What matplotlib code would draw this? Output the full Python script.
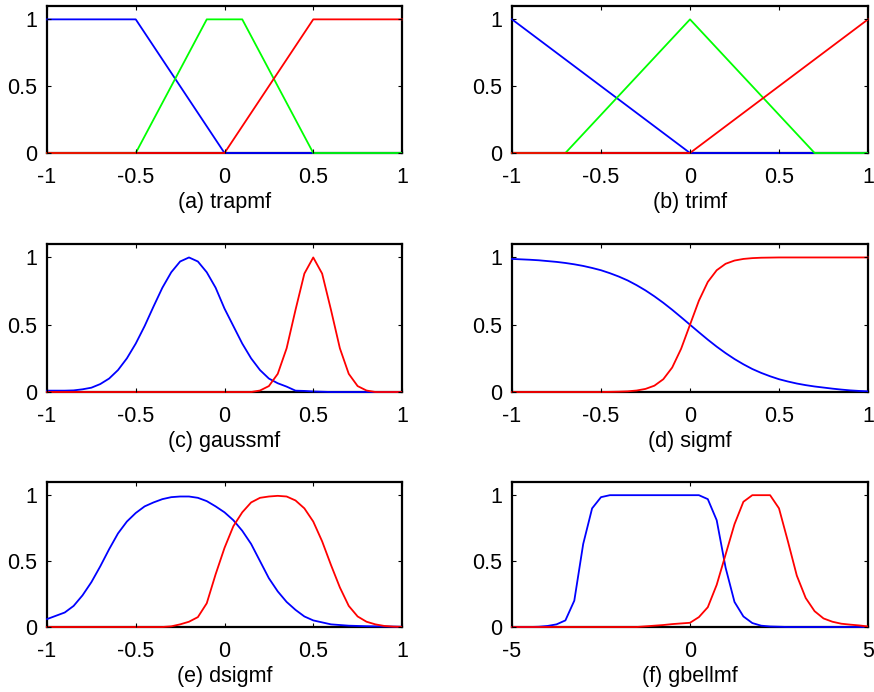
import numpy as np
import matplotlib
matplotlib.use("Agg")
import matplotlib.pyplot as plt

plt.rcParams['font.family'] = ['Liberation Sans', 'DejaVu Sans']
plt.rcParams['axes.unicode_minus'] = False

# (a) trapmf - breakpoints
trap_blue_x = [-1, -0.5, 0, 1]
trap_blue_y = [1, 1, 0, 0]
trap_green_x = [-1, -0.5, -0.1, 0.1, 0.5, 1]
trap_green_y = [0, 0, 1, 1, 0, 0]
trap_red_x = [-1, 0, 0.5, 1]
trap_red_y = [0, 0, 1, 1]

# (b) trimf - breakpoints
tri_blue_x = [-1, 0, 1]
tri_blue_y = [1, 0, 0]
tri_green_x = [-1, -0.7, 0, 0.7, 1]
tri_green_y = [0, 0, 1, 0, 0]
tri_red_x = [-1, 0, 1]
tri_red_y = [0, 0, 1]

# sample positions for (c), (d), (e): -1 .. 1 step 0.05 ; (f): -5 .. 5 step 0.25
x_unit = np.linspace(-1, 1, 41)
x_bell = np.linspace(-5, 5, 41)

gauss_blue = [0.01, 0.01, 0.01, 0.012, 0.02, 0.032, 0.059, 0.10, 0.163, 0.25,
              0.36, 0.49, 0.635, 0.775, 0.89, 0.97, 1.0, 0.97, 0.89, 0.775,
              0.62, 0.49, 0.36, 0.25, 0.163, 0.10, 0.065, 0.04, 0.01, 0.008,
              0.004, 0.002, 0, 0, 0, 0, 0, 0, 0, 0, 0]
gauss_red = [0] * 24 + [0.011, 0.044, 0.135, 0.325, 0.61, 0.88, 1.0, 0.88, 0.61,
                        0.325, 0.135, 0.044, 0.011, 0, 0, 0, 0]

sig_blue = [0.989, 0.986, 0.983, 0.979, 0.973, 0.967, 0.959, 0.949, 0.937, 0.922,
            0.905, 0.883, 0.858, 0.829, 0.794, 0.755, 0.711, 0.663, 0.611, 0.556,
            0.5, 0.444, 0.389, 0.337, 0.289, 0.245, 0.206, 0.171, 0.142, 0.117,
            0.095, 0.078, 0.063, 0.051, 0.041, 0.033, 0.025, 0.018, 0.012, 0.008, 0.005]
sig_red = [0] * 11 + [0.001, 0.0025, 0.005, 0.011, 0.023, 0.047, 0.095, 0.182, 0.321,
                      0.5, 0.679, 0.818, 0.905, 0.953, 0.977, 0.989, 0.995, 0.998,
                      0.999] + [1] * 11

dsig_blue = [0.06, 0.085, 0.11, 0.16, 0.24, 0.34, 0.46, 0.59, 0.71, 0.80,
             0.865, 0.915, 0.945, 0.97, 0.985, 0.99, 0.99, 0.98, 0.955, 0.915,
             0.87, 0.81, 0.73, 0.63, 0.50, 0.37, 0.27, 0.19, 0.13, 0.08,
             0.05, 0.035, 0.02, 0.015, 0.01, 0.008, 0.006, 0.005, 0.004, 0.003, 0.002]
dsig_red = [0] * 14 + [0.005, 0.02, 0.04, 0.075, 0.18, 0.40, 0.60, 0.765, 0.87, 0.945,
                       0.98, 0.99, 0.995, 0.99, 0.96, 0.90, 0.80, 0.65, 0.47, 0.30,
                       0.16, 0.08, 0.04, 0.02, 0.008, 0.003, 0.001]

bell_blue = [0, 0, 0, 0.002, 0.008, 0.02, 0.05, 0.2, 0.63, 0.90, 0.985] + [1] * 11 + \
            [0.97, 0.81, 0.45, 0.19, 0.08, 0.03, 0.01, 0.004, 0.002] + [0] * 10
bell_red = [0] * 15 + [0.005, 0.01, 0.015, 0.022, 0.027, 0.032, 0.075, 0.15, 0.32, 0.55,
                       0.78, 0.95, 1, 1, 1, 0.9, 0.65, 0.39, 0.22, 0.12,
                       0.065, 0.04, 0.025, 0.018, 0.012, 0.004]

titles = ['(a) trapmf', '(b) trimf', '(c) gaussmf', '(d) sigmf', '(e) dsigmf', '(f) gbellmf']

W, H = 874, 692
fig = plt.figure(figsize=(W / 100, H / 100), dpi=100)

cols = [(47, 402), (512, 868)]
rows = [(6, 153), (244, 392), (482, 627)]

panels = [
    [(trap_blue_x, trap_blue_y, 'b'), (trap_green_x, trap_green_y, '#00ff00'), (trap_red_x, trap_red_y, 'r')],
    [(tri_blue_x, tri_blue_y, 'b'), (tri_green_x, tri_green_y, '#00ff00'), (tri_red_x, tri_red_y, 'r')],
    [(x_unit, gauss_blue, 'b'), (x_unit, gauss_red, 'r')],
    [(x_unit, sig_blue, 'b'), (x_unit, sig_red, 'r')],
    [(x_unit, dsig_blue, 'b'), (x_unit, dsig_red, 'r')],
    [(x_bell, bell_blue, 'b'), (x_bell, bell_red, 'r')],
]

for i, lines in enumerate(panels):
    r, c = divmod(i, 2)
    x0, x1 = cols[c]
    y0, y1 = rows[r]
    ax = fig.add_axes([x0 / W, 1 - y1 / H, (x1 - x0) / W, (y1 - y0) / H])
    for xs, ys, col in lines:
        ax.plot(xs, ys, color=col, lw=1.3, clip_on=False, zorder=1)
    if i == 5:
        ax.set_xlim(-5, 5)
        ax.set_xticks([-5, 0, 5])
        ax.set_xticklabels(['-5', '0', '5'])
    else:
        ax.set_xlim(-1, 1)
        ax.set_xticks([-1, -0.5, 0, 0.5, 1])
        ax.set_xticklabels(['-1', '-0.5', '0', '0.5', '1'])
    ax.set_ylim(0, 1.1)
    ax.set_yticks([0, 0.5, 1])
    ax.set_yticklabels(['0', '0.5', '1'])
    ax.tick_params(direction='in', length=3, width=0.8, top=True, right=True,
                   labelsize=15.5)
    ax.tick_params(axis='x', pad=10)
    ax.tick_params(axis='y', pad=7)
    for s in ax.spines.values():
        s.set_linewidth(1.6)
        s.set_zorder(0)
    ax.set_xlabel(titles[i], fontsize=15.5, labelpad=3)

fig.savefig('out.png', dpi=100)
